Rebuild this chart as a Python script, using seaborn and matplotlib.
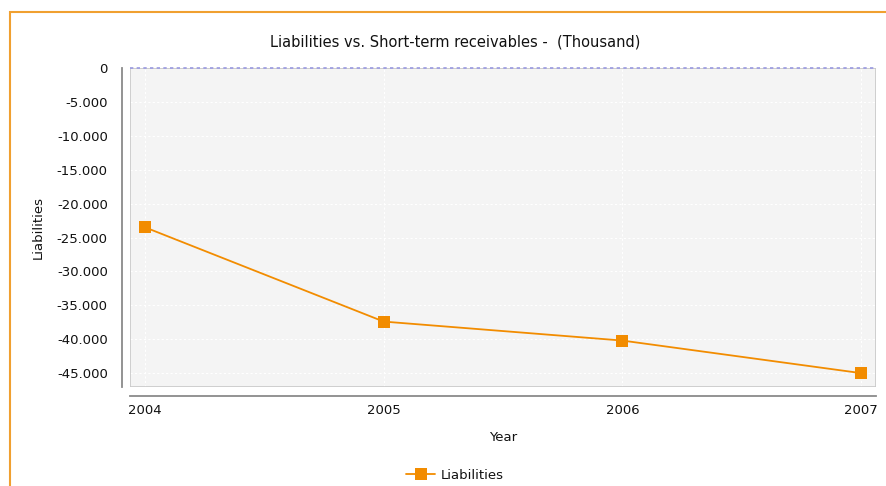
import matplotlib
matplotlib.use("Agg")
import matplotlib.pyplot as plt
import matplotlib.ticker as mticker
from matplotlib.patches import Rectangle
import pandas as pd
import seaborn as sns

# chart values
years = [2004, 2005, 2006, 2007]
liabilities = [-23500, -37400, -40200, -45000]
y_ticks = [0, -5000, -10000, -15000, -20000, -25000, -30000, -35000, -40000, -45000]

ORANGE = "#F28C00"
GREY = "#8a8a8a"
TEXT = "#111111"


def thousands_dot(v, pos):
    s = f"{abs(int(round(v))):,}".replace(",", ".")
    return ("-" + s) if v < 0 else s


def make_chart():
    sns.set_style("white")
    plt.rcParams["font.family"] = ["DejaVu Sans"]

    df = pd.DataFrame({"Year": years, "Liabilities": liabilities})

    fig = plt.figure(figsize=(8.86, 4.86), dpi=100)
    ax = fig.add_axes([130 / 886, 1 - 387 / 486, 746 / 886, 319 / 486])
    ax.set_facecolor("#f4f4f4")

    # outer orange frame (left and top visible)
    fig.patches.append(Rectangle((10 / 886, -0.1), 1.2, 1 - 12 / 486 + 0.1,
                                 transform=fig.transFigure, fill=False,
                                 edgecolor="#F0A030", linewidth=1.5))

    sns.lineplot(data=df, x="Year", y="Liabilities", ax=ax, color=ORANGE,
                 marker="s", markersize=9, markeredgewidth=0, linewidth=1.3,
                 label="Liabilities", legend=False)

    ax.set_xlim(2003.937, 2007.063)
    ax.set_ylim(-47050, 0)
    ax.set_xticks(years)
    ax.set_yticks(y_ticks)
    ax.yaxis.set_major_formatter(mticker.FuncFormatter(thousands_dot))

    # grid
    for x in years:
        ax.axvline(x, color="white", lw=0.8, ls=(0, (2, 2)), zorder=0.5)
    for y in y_ticks[1:]:
        ax.axhline(y, color="white", lw=0.8, ls=(0, (2, 2)), zorder=0.5)
    ax.axhline(0, color="#9a9ae0", lw=1.2, ls=(0, (2, 2)), zorder=1, clip_on=False)

    # plot border
    ax.add_patch(Rectangle((0, 0), 1, 1, transform=ax.transAxes, fill=False,
                           edgecolor="#c8c8c8", linewidth=1.2, zorder=0.6))

    for side in ["top", "right"]:
        ax.spines[side].set_visible(False)
    ax.spines["left"].set_position(("outward", 6))
    ax.spines["bottom"].set_position(("outward", 6.5))
    for side in ["left", "bottom"]:
        ax.spines[side].set_color(GREY)
        ax.spines[side].set_linewidth(1.3)

    ax.tick_params(axis="both", direction="out", length=3.5, width=1,
                   color=GREY, labelsize=9.5, labelcolor=TEXT)
    ax.tick_params(axis="y", pad=6.5)
    ax.tick_params(axis="x", pad=2)

    ax.set_xlabel("Year", fontsize=9.5, labelpad=10, color=TEXT)
    ax.set_ylabel("Liabilities", fontsize=9.5, labelpad=9, color=TEXT)
    fig.suptitle("Liabilities vs. Short-term receivables -  (Thousand)",
                 x=455 / 886, y=1 - 42 / 486, va="center", fontsize=10.5, color=TEXT)

    handles, labels = ax.get_legend_handles_labels()
    leg = fig.legend(handles, labels, loc="center", bbox_to_anchor=(455 / 886, 1 - 475 / 486),
                     frameon=False, fontsize=9.5, handlelength=2.2, handletextpad=0.4)
    for t in leg.get_texts():
        t.set_color(TEXT)

    fig.savefig("out.png", dpi=100)


if __name__ == "__main__":
    make_chart()
